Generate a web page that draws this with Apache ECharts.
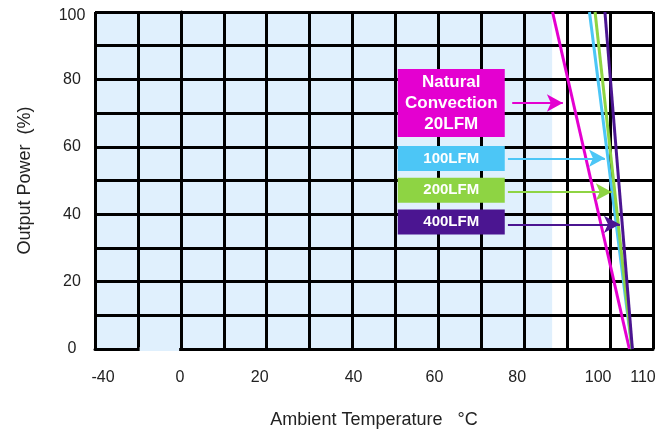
<!DOCTYPE html>
<html><head><meta charset="utf-8">
<script src="https://cdn.jsdelivr.net/npm/echarts@6/dist/echarts.min.js"></script>
<style>html,body{margin:0;padding:0;background:#fff}#c{width:672px;height:434px}</style>
</head><body><div id="c"></div>
<script>
// ---- data ----
const xTickValues = [-20,-10,0,10,20,30,40,50,60,70,80,90,100,110];
const xTickLabels = ['-40','','0','','20','','40','','60','','80','','100','110'];
const yTickValues = [0,10,20,30,40,50,60,70,80,90,100];
const yTickLabels = ['0','','20','','40','','60','','80','','100'];
const seriesNames = ['Natural Convection 20LFM','100LFM','200LFM','400LFM'];
const natural20 = [[86.6,100],[104.5,0]];
const lfm100 = [[95.2,100],[105.1,0]];
const lfm200 = [[96.5,100],[105.1,0]];
const lfm400 = [[98.8,100],[105.2,0]];
const shadedX = [-20, 86.5];
const shadedY = [0, 100];
const calloutText = ['Natural\nConvection\n20LFM','100LFM','200LFM','400LFM'];
const calloutCenter = [[63,73],[63,56.5],[63,47.1],[63,37.7]];
const arrowY = [73,56.6,46.6,37];
const arrowFrom = [77.2,76.2,76.2,76.2];
const arrowTo = [89.0,98.8,100.4,102.3];
const breakGap = [-9.6,-0.4];
const breakMark = [-5,-0.4];

// ---- styles ----
const colors = ['#e400d0','#4cc6f6','#8ed443','#4b1591'];
const boxSizes = [[107,68],[107,25],[107,25],[107,25]];
const boxFont = [17,15,15,15];
const xLabelShift = [8,0,-1,0,-7,0,1,0,-4,0,-7,0,-12,-10];
const shadeColor = '#e0f0fd';
const font = 'Liberation Sans, Arial, sans-serif';
const lines = [natural20, lfm100, lfm200, lfm400];

const xRich = {};
xLabelShift.forEach((d,k)=>{
  xRich['s'+k] = {color:'#222', fontSize:16, fontFamily:font,
    padding: d>=0 ? [0,0,0,2*d] : [0,-2*d,0,0]};
});
const yRich = {
  n:{color:'#222', fontSize:16, fontFamily:font},
  top:{color:'#222', fontSize:16, fontFamily:font, padding:[7,0,0,0]}
};

const series = [{
  type:'line', data:[], silent:true,
  markArea:{ silent:true, z:0, itemStyle:{color:shadeColor},
    data:[[{coord:[shadedX[0],shadedY[0]]},{coord:[shadedX[1],shadedY[1]]}]] },
  markLine:{ silent:true, z:2, symbol:['none','none'], label:{show:false},
    lineStyle:{color:shadeColor,width:4,type:'solid'},
    data:[[{coord:[breakGap[0],0]},{coord:[breakGap[1],0]}]] },
  markPoint:{ silent:true, symbol:'rect', symbolSize:0,
    label:{show:true, formatter:'~', color:'#888', fontSize:12, fontFamily:font},
    data:[{coord:breakMark}] }
}];
lines.forEach((d,i)=>{
  series.push({
    name: seriesNames[i], type:'line', data:d, symbol:'none', z:3, clip:true,
    lineStyle:{color:colors[i], width:3},
    markLine:{ silent:true, z:4, symbol:['none','arrow'], symbolSize:[13,16],
      label:{show:false}, lineStyle:{color:colors[i], width:2, type:'solid'},
      data:[[{coord:[arrowFrom[i],arrowY[i]]},{coord:[arrowTo[i],arrowY[i]]}]] },
    markPoint:{ silent:true, z:5, symbol:'rect', symbolSize:boxSizes[i],
      itemStyle:{color:colors[i]},
      label:{show:true, position:'inside', formatter:calloutText[i], color:'#fff',
        fontWeight:'bold', fontSize:boxFont[i], lineHeight:21, fontFamily:font},
      data:[{coord:calloutCenter[i]}] }
  });
});

const chart = echarts.init(document.getElementById('c'), null, {renderer:'canvas'});
chart.setOption({
  animation:false,
  backgroundColor:'#fff',
  grid:{left:95, right:19, top:12, bottom:81, containLabel:false},
  xAxis:{
    type:'value', min:xTickValues[0], max:xTickValues[xTickValues.length-1], interval:10, z:1,
    name:'Ambient Temperature   °C', nameLocation:'middle', nameGap:62,
    nameTextStyle:{color:'#222', fontSize:18, fontFamily:font},
    axisLine:{show:true, lineStyle:{color:'#000', width:3}},
    axisTick:{show:false},
    splitLine:{show:true, lineStyle:{color:'#000', width:3}},
    axisLabel:{margin:21, color:'#222', fontSize:16, fontFamily:font, rich:xRich,
      formatter:v=>{const k=xTickValues.indexOf(v); return (k<0||!xTickLabels[k])?'':'{s'+k+'|'+xTickLabels[k]+'}';}}
  },
  yAxis:{
    type:'value', min:0, max:100, interval:10, z:1,
    name:'Output Power  (%)', nameLocation:'middle', nameGap:61,
    nameTextStyle:{color:'#222', fontSize:18, fontFamily:font},
    axisLine:{show:true, lineStyle:{color:'#000', width:3}},
    axisTick:{show:false},
    splitLine:{show:true, lineStyle:{color:'#000', width:3}},
    axisLabel:{margin:23, align:'center', color:'#222', fontSize:16, fontFamily:font, rich:yRich,
      formatter:v=>{const k=yTickValues.indexOf(v); if(k<0||!yTickLabels[k]) return ''; return (v===yTickValues[yTickValues.length-1]?'{top|':'{n|')+yTickLabels[k]+'}';}}
  },
  series:series
});
</script></body></html>
